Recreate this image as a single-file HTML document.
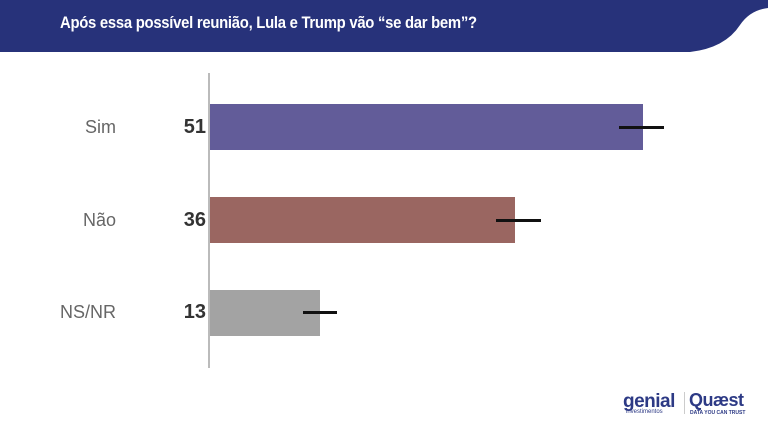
<!DOCTYPE html>
<html><head><meta charset="utf-8"><style>
body{margin:0;width:768px;height:427px;background:#fff;overflow:hidden;position:relative;font-family:"Liberation Sans",sans-serif}
.t{position:absolute;left:60px;top:14px;color:#fff;font-size:16.5px;font-weight:bold;letter-spacing:-0.3px;transform:scaleX(0.9);transform-origin:left}
.l{position:absolute;width:116px;text-align:right;left:0;color:#666;font-size:18px}
.n{position:absolute;width:206px;text-align:right;left:0;color:#333;font-size:20px;font-weight:bold}
.b{position:absolute;left:210px;height:46px}
.e{position:absolute;height:2.5px;background:#111}
</style></head><body>
<svg width="768" height="56" style="position:absolute;left:0;top:0">
<path d="M0 0H768V8Q750 10 740 25Q725 48 690 52H0Z" fill="#27327a"/>
</svg>
<div class="t">Após essa possível reunião, Lula e Trump vão “se dar bem”?</div>
<div style="position:absolute;left:208px;top:73px;width:2px;height:295px;background:#bbb"></div>
<div class="b" style="top:104px;width:433px;background:#625c99"></div>
<div class="b" style="top:197px;width:305px;background:#9a6661"></div>
<div class="b" style="top:290px;width:110px;background:#a3a3a3"></div>
<div class="e" style="left:619px;width:45px;top:126px"></div>
<div class="e" style="left:496px;width:45px;top:219px"></div>
<div class="e" style="left:303px;width:34px;top:311px"></div>
<div class="l" style="top:117px">Sim</div><div class="n" style="top:116px">51</div>
<div class="l" style="top:210px">Não</div><div class="n" style="top:209px">36</div>
<div class="l" style="top:302px">NS/NR</div><div class="n" style="top:301px">13</div>
<div style="position:absolute;left:623px;top:391px;color:#2d3a85;font-size:19px;font-weight:bold;letter-spacing:-0.5px">genial</div>
<div style="position:absolute;left:626px;top:409px;color:#2d3a85;font-size:6px">investimentos</div>
<div style="position:absolute;left:684px;top:392px;width:1px;height:22px;background:#ccc"></div>
<div style="position:absolute;left:689px;top:390px;color:#2d3a85;font-size:18px;font-weight:bold;letter-spacing:-0.5px">Quæst</div>
<div style="position:absolute;left:690px;top:410px;color:#2d3a85;font-size:5px;font-weight:bold">DATA YOU CAN TRUST</div>
</body></html>
